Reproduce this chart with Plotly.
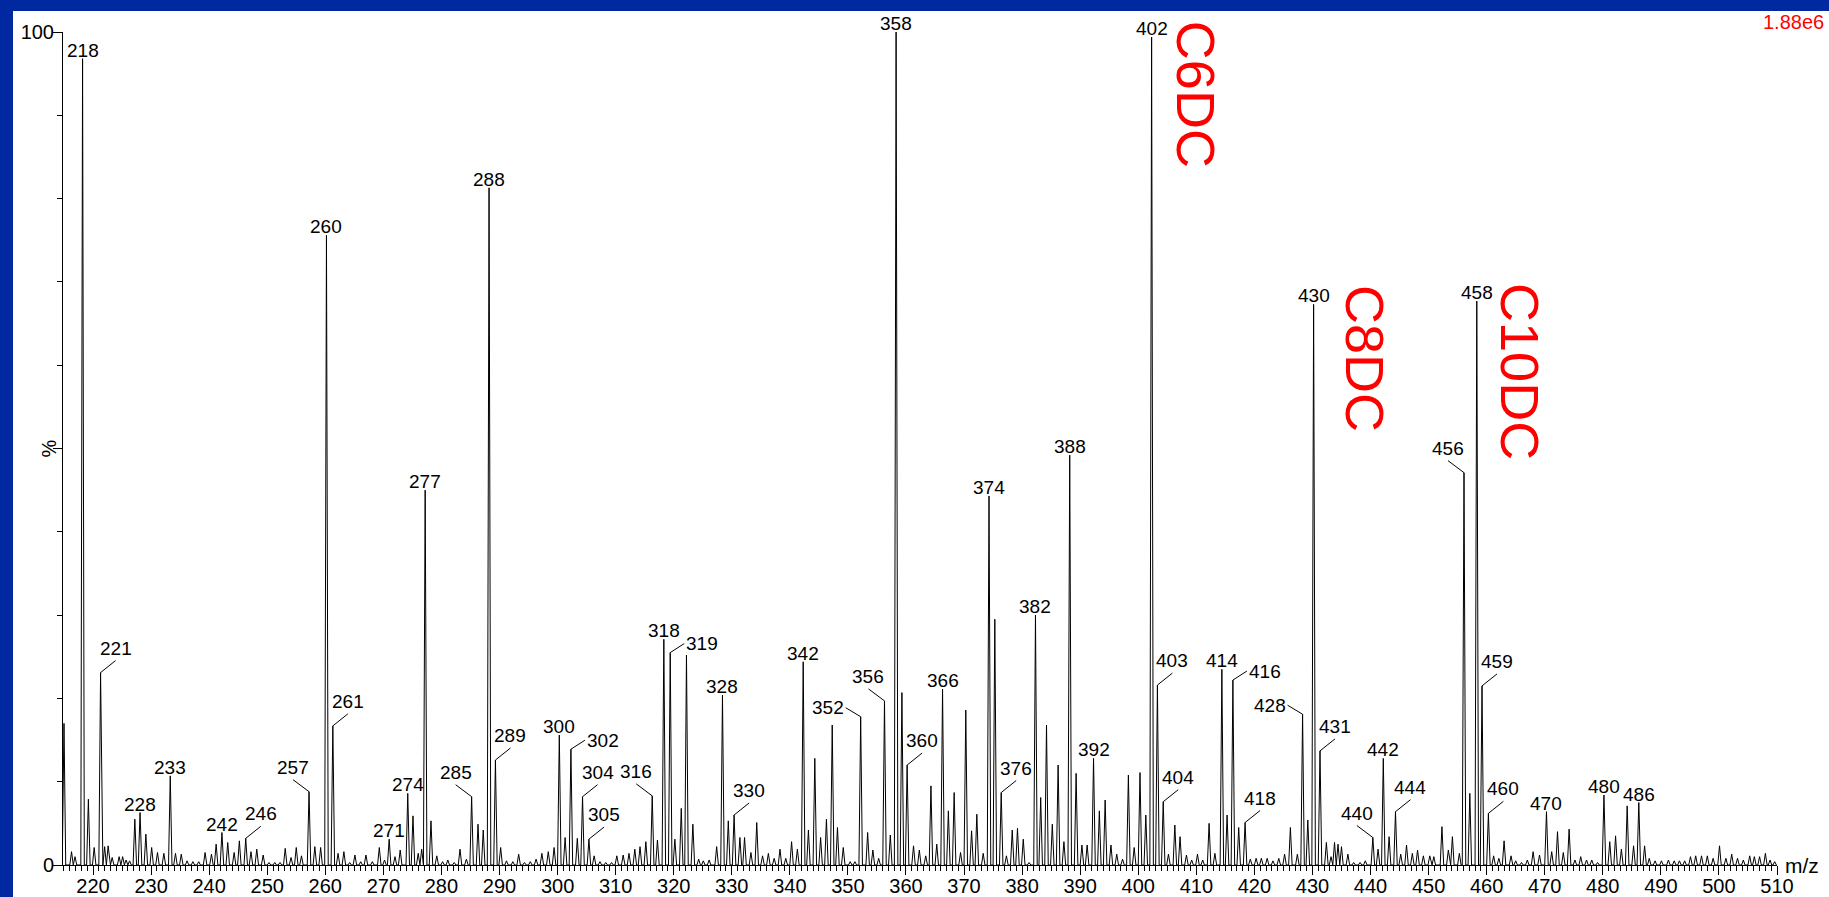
import plotly.graph_objects as go

# Centroided ESI-MS/MS spectrum: (m/z, relative intensity in %)
mz = [
    215.0, 216.3, 216.9, 218.2, 219.2, 220.2, 221.3, 222.0, 222.6, 223.3,
    224.5, 225.1, 225.7, 226.3, 227.2, 228.1, 229.1, 230.1, 231.1, 232.2,
    233.3, 234.2, 235.2, 236.2, 237.2, 238.2, 239.3, 240.4, 241.2, 242.2,
    243.2, 244.3, 245.2, 246.3, 247.2, 248.2, 249.3, 250.3, 251.3, 252.2,
    253.1, 254.1, 255.0, 255.9, 257.2, 258.2, 259.2, 260.2, 261.3, 262.2,
    263.2, 264.2, 265.1, 266.1, 267.0, 268.1, 269.3, 270.2, 271.0, 272.0,
    272.9, 274.2, 275.1, 276.0, 276.6, 277.2, 278.2, 279.2, 280.2, 281.1,
    282.2, 283.2, 284.3, 285.2, 286.3, 287.2, 288.2, 289.3, 290.2, 291.2,
    292.3, 293.3, 294.3, 295.3, 296.3, 297.3, 298.4, 299.4, 300.3, 301.3,
    302.3, 303.4, 304.3, 305.4, 306.3, 307.3, 308.3, 309.3, 310.2, 311.3,
    312.3, 313.3, 314.2, 315.2, 316.3, 317.2, 318.3, 319.4, 320.2, 321.3,
    322.2, 323.3, 324.3, 325.1, 326.1, 327.4, 328.4, 329.4, 330.4, 331.4,
    332.2, 333.3, 334.3, 335.3, 336.3, 337.3, 338.3, 339.3, 340.3, 341.3,
    342.3, 343.2, 344.3, 345.3, 346.3, 347.3, 348.2, 349.2, 350.4, 351.2,
    352.2, 353.4, 354.3, 355.3, 356.3, 357.3, 358.3, 359.3, 360.2, 361.3,
    362.3, 363.4, 364.3, 365.3, 366.3, 367.3, 368.3, 369.4, 370.3, 371.3,
    372.2, 373.3, 374.3, 375.3, 376.4, 377.3, 378.3, 379.2, 380.2, 381.2,
    382.3, 383.2, 384.2, 385.2, 386.2, 387.2, 388.2, 389.3, 390.3, 391.2,
    392.3, 393.3, 394.3, 395.3, 396.3, 397.3, 398.3, 399.3, 400.3, 401.3,
    402.3, 403.3, 404.3, 405.2, 406.3, 407.2, 408.3, 409.2, 410.2, 411.1,
    412.2, 413.2, 414.4, 415.3, 416.3, 417.3, 418.4, 419.3, 420.3, 421.2,
    422.2, 423.2, 424.2, 425.2, 426.2, 427.4, 428.3, 429.2, 430.2, 431.3,
    432.4, 433.2, 433.8, 434.4, 435.0, 436.1, 437.1, 438.2, 439.1, 440.4,
    441.3, 442.2, 443.2, 444.3, 445.2, 446.2, 447.2, 448.1, 449.1, 450.2,
    450.9, 452.3, 453.4, 454.1, 455.3, 456.1, 457.1, 458.3, 459.2, 460.3,
    461.2, 462.1, 463.0, 464.2, 465.0, 466.0, 467.0, 468.0, 469.1, 470.3,
    471.2, 472.2, 473.2, 474.2, 475.2, 476.2, 477.2, 478.1, 479.1, 480.2,
    481.2, 482.2, 483.2, 484.2, 485.3, 486.2, 487.2, 488.0, 489.0, 490.1,
    491.3, 492.3, 493.2, 494.1, 495.1, 496.0, 497.0, 498.0, 499.0, 500.1,
    501.2, 502.2, 503.2, 504.2, 505.3, 506.1, 507.0, 508.0, 508.8, 509.6,
]
intensity = [
    17.0, 1.6, 1.0, 96.8, 7.9, 2.1, 23.1, 2.2, 2.3, 0.9,
    1.0, 1.0, 0.6, 0.5, 5.5, 6.3, 3.7, 2.1, 1.5, 1.4,
    10.7, 1.4, 1.3, 0.5, 0.4, 0.4, 1.5, 1.3, 2.5, 3.9,
    2.7, 1.5, 2.9, 3.2, 1.6, 1.9, 1.2, 0.3, 0.3, 0.3,
    2.0, 0.9, 2.1, 1.1, 8.8, 2.2, 2.1, 75.6, 16.7, 1.4,
    1.6, 0.3, 1.2, 0.4, 1.2, 0.4, 2.1, 0.6, 3.1, 1.0,
    1.8, 8.6, 5.9, 1.4, 1.9, 45.0, 5.3, 1.1, 0.4, 0.6,
    0.3, 1.9, 0.7, 8.2, 4.9, 4.2, 81.3, 12.6, 2.1, 0.5,
    0.4, 1.3, 0.3, 0.4, 0.7, 1.4, 1.6, 2.1, 15.6, 3.3,
    13.9, 3.2, 8.2, 3.1, 1.1, 0.4, 0.3, 0.3, 1.1, 1.2,
    1.4, 1.9, 2.2, 2.8, 8.3, 3.0, 27.1, 25.5, 3.1, 6.8,
    25.2, 4.9, 0.7, 0.5, 0.6, 2.2, 20.4, 5.3, 6.0, 3.3,
    3.3, 1.5, 5.1, 1.1, 1.4, 0.8, 1.9, 0.8, 2.8, 1.9,
    24.4, 4.2, 12.8, 3.3, 5.5, 16.8, 4.5, 2.1, 0.4, 0.4,
    17.8, 3.9, 1.8, 0.8, 19.7, 3.6, 100.0, 20.7, 12.0, 2.3,
    1.8, 1.1, 9.5, 2.5, 21.1, 6.5, 8.7, 1.5, 18.6, 4.1,
    6.1, 1.4, 44.3, 29.5, 8.7, 1.1, 4.2, 4.4, 3.1, 0.3,
    30.0, 8.1, 16.8, 4.9, 12.0, 2.8, 49.2, 11.0, 2.4, 2.4,
    12.8, 6.5, 7.8, 2.4, 1.3, 0.7, 10.8, 2.1, 11.1, 6.0,
    99.4, 21.6, 7.6, 1.3, 4.8, 3.4, 1.2, 0.6, 1.3, 0.6,
    5.0, 1.4, 23.5, 6.0, 22.2, 4.5, 5.1, 0.7, 0.8, 0.8,
    0.8, 0.5, 0.8, 1.3, 4.5, 1.3, 18.1, 5.4, 67.3, 13.7,
    2.7, 1.0, 2.7, 2.5, 2.2, 1.3, 0.3, 0.3, 0.5, 3.3,
    1.9, 12.8, 3.4, 6.4, 1.3, 2.4, 1.4, 1.8, 1.1, 1.1,
    1.0, 4.6, 1.8, 3.4, 1.4, 47.1, 8.6, 67.7, 21.5, 6.2,
    1.1, 0.8, 2.9, 1.1, 0.5, 0.3, 0.6, 1.6, 1.2, 6.4,
    1.6, 4.0, 1.5, 4.3, 0.6, 1.0, 0.6, 0.6, 0.3, 8.4,
    2.8, 3.5, 1.9, 7.1, 2.3, 7.5, 2.3, 0.8, 0.5, 0.5,
    0.6, 0.5, 0.5, 0.5, 1.0, 1.1, 1.1, 1.1, 0.8, 2.3,
    0.8, 1.3, 0.8, 0.6, 1.1, 1.0, 1.0, 1.4, 0.6, 0.4,
]

# Nominal masses that carry a peak label
labelled = [
    218, 221, 228, 233, 242, 246, 257, 260, 261, 271, 274, 277, 285, 288,
    289, 300, 302, 304, 305, 316, 318, 319, 328, 330, 342, 352, 356, 358,
    360, 366, 374, 376, 382, 388, 392, 402, 403, 404, 414, 416, 418, 428,
    430, 431, 440, 442, 444, 456, 458, 459, 460, 470, 480, 486,
]

# Dicarboxylic acylcarnitine assignments
species = {402: "C6DC", 430: "C8DC", 458: "C10DC"}
total_ion_count = "1.88e6"

# ---------------------------------------------------------------- styling
W, H = 1829, 897
ML, MR, MT, MB = 63, 52, 32, 32
FONT = "Liberation Sans, Arial, Helvetica, sans-serif"
FRAME_BLUE = "#0029A1"
RED = "#FF0000"
PEAK_HALF_WIDTH = 0.3
FRAME_LEFT, FRAME_TOP = 13, 11

# leader-line placement for labels that do not sit straight above their peak
placement = {}
for n in (221, 246, 261, 289, 304, 305, 330, 360, 376, 403, 404, 418, 431, 444, 459, 460):
    placement[n] = "up-right"
for n in (257, 285, 316, 356, 440, 456):
    placement[n] = "up-left"
for n in (302, 319, 416):
    placement[n] = "right"
for n in (352, 428):
    placement[n] = "left"

# vertical position (% axis) and horizontal pixel offset of the assignment texts
species_pos = {402: (92.5, 44), 430: (60.8, 52), 458: (59.2, 43)}

# ---------------------------------------------------------------- profile
peaks = sorted(zip(mz, intensity))
prof_x, prof_y = [], []
for m, h in peaks:
    prof_x += [m - PEAK_HALF_WIDTH, m, m + PEAK_HALF_WIDTH]
    prof_y += [0, h, 0]

fig = go.Figure()
fig.add_trace(go.Scatter(
    x=prof_x, y=prof_y, mode="lines",
    line=dict(color="black", width=1),
    hoverinfo="skip", showlegend=False,
))


def peak_for(nominal):
    """Most intense centroid at the given nominal mass."""
    hits = [(m, h) for m, h in peaks if round(m) == nominal]
    return max(hits, key=lambda p: p[1])


label_font = dict(family=FONT, size=19, color="black")
annotations = []
for n in labelled:
    m, h = peak_for(n)
    kind = placement.get(n, "above")
    base = dict(x=m, y=h, xref="x", yref="y", text=str(n), font=label_font)
    if kind == "above":
        base.update(showarrow=False, xanchor="center", yanchor="bottom", yshift=-4)
    else:
        base.update(showarrow=True, arrowhead=0, arrowwidth=1, arrowcolor="black",
                    standoff=0, startstandoff=0)
        if kind == "up-right":
            base.update(ax=15, ay=-12, xanchor="center", yanchor="bottom")
        elif kind == "up-left":
            base.update(ax=-16, ay=-12, xanchor="center", yanchor="bottom")
        elif kind == "right":
            base.update(ax=14, ay=-9, xanchor="left", yanchor="middle")
        else:
            base.update(ax=-15, ay=-9, xanchor="right", yanchor="middle")
    annotations.append(base)

for n, name in species.items():
    m, _ = peak_for(n)
    yv, dx = species_pos[n]
    annotations.append(dict(
        x=m, y=yv, xref="x", yref="y", xshift=dx, text=name, textangle=90,
        showarrow=False, xanchor="center", yanchor="middle",
        font=dict(family=FONT, size=54, color=RED),
    ))

# axis captions
annotations.append(dict(
    x=1, y=1, xref="paper", yref="paper", xanchor="right", yanchor="middle",
    xshift=49, yshift=10, text=total_ion_count, showarrow=False,
    font=dict(family=FONT, size=20, color=RED),
))
annotations.append(dict(
    x=1, y=0, xref="paper", yref="paper", xanchor="left", yanchor="middle",
    xshift=6, yshift=0, text="m/z", showarrow=False,
    font=dict(family=FONT, size=21, color="black"),
))
annotations.append(dict(
    x=0, y=50, xref="paper", yref="y", xanchor="center", yanchor="middle",
    xshift=-15, yshift=0, text="%", textangle=-90, showarrow=False,
    font=dict(family=FONT, size=20, color="black"),
))

# blue frame along the top and left edges of the page
pw, ph = W - ML - MR, H - MT - MB
frame = [
    dict(type="rect", xref="paper", yref="paper", layer="above",
         x0=-ML / pw, x1=(W - ML) / pw, y0=(H - MB - FRAME_TOP) / ph, y1=(H - MB) / ph,
         fillcolor=FRAME_BLUE, line=dict(width=0)),
    dict(type="rect", xref="paper", yref="paper", layer="above",
         x0=-ML / pw, x1=(FRAME_LEFT - ML) / pw, y0=-MB / ph, y1=(H - MB) / ph,
         fillcolor=FRAME_BLUE, line=dict(width=0)),
]

fig.update_layout(
    width=W, height=H,
    margin=dict(l=ML, r=MR, t=MT, b=MB, pad=0, autoexpand=False),
    paper_bgcolor="white", plot_bgcolor="white",
    shapes=frame,
    annotations=annotations,
    showlegend=False,
    xaxis=dict(
        range=[214.83, 510.0], showgrid=False, zeroline=False, automargin=False,
        showline=True, linecolor="black", linewidth=1,
        tickmode="linear", tick0=220, dtick=10,
        ticks="outside", ticklen=9, tickwidth=1, tickcolor="black",
        ticklabelstandoff=-6,
        minor=dict(dtick=1, tick0=220, ticks="outside", ticklen=5,
                   tickwidth=1, tickcolor="black"),
        tickfont=dict(family=FONT, size=20, color="black"),
    ),
    yaxis=dict(
        range=[0, 100], showgrid=False, zeroline=False, automargin=False,
        showline=True, linecolor="black", linewidth=1,
        tickmode="array", tickvals=[0, 50, 100], ticktext=["0", "", "100"],
        ticks="outside", ticklen=9, tickwidth=1, tickcolor="black",
        ticklabelstandoff=-5,
        minor=dict(dtick=10, tick0=0, ticks="outside", ticklen=5,
                   tickwidth=1, tickcolor="black"),
        tickfont=dict(family=FONT, size=20, color="black"),
    ),
)

fig.write_html("out.html")
